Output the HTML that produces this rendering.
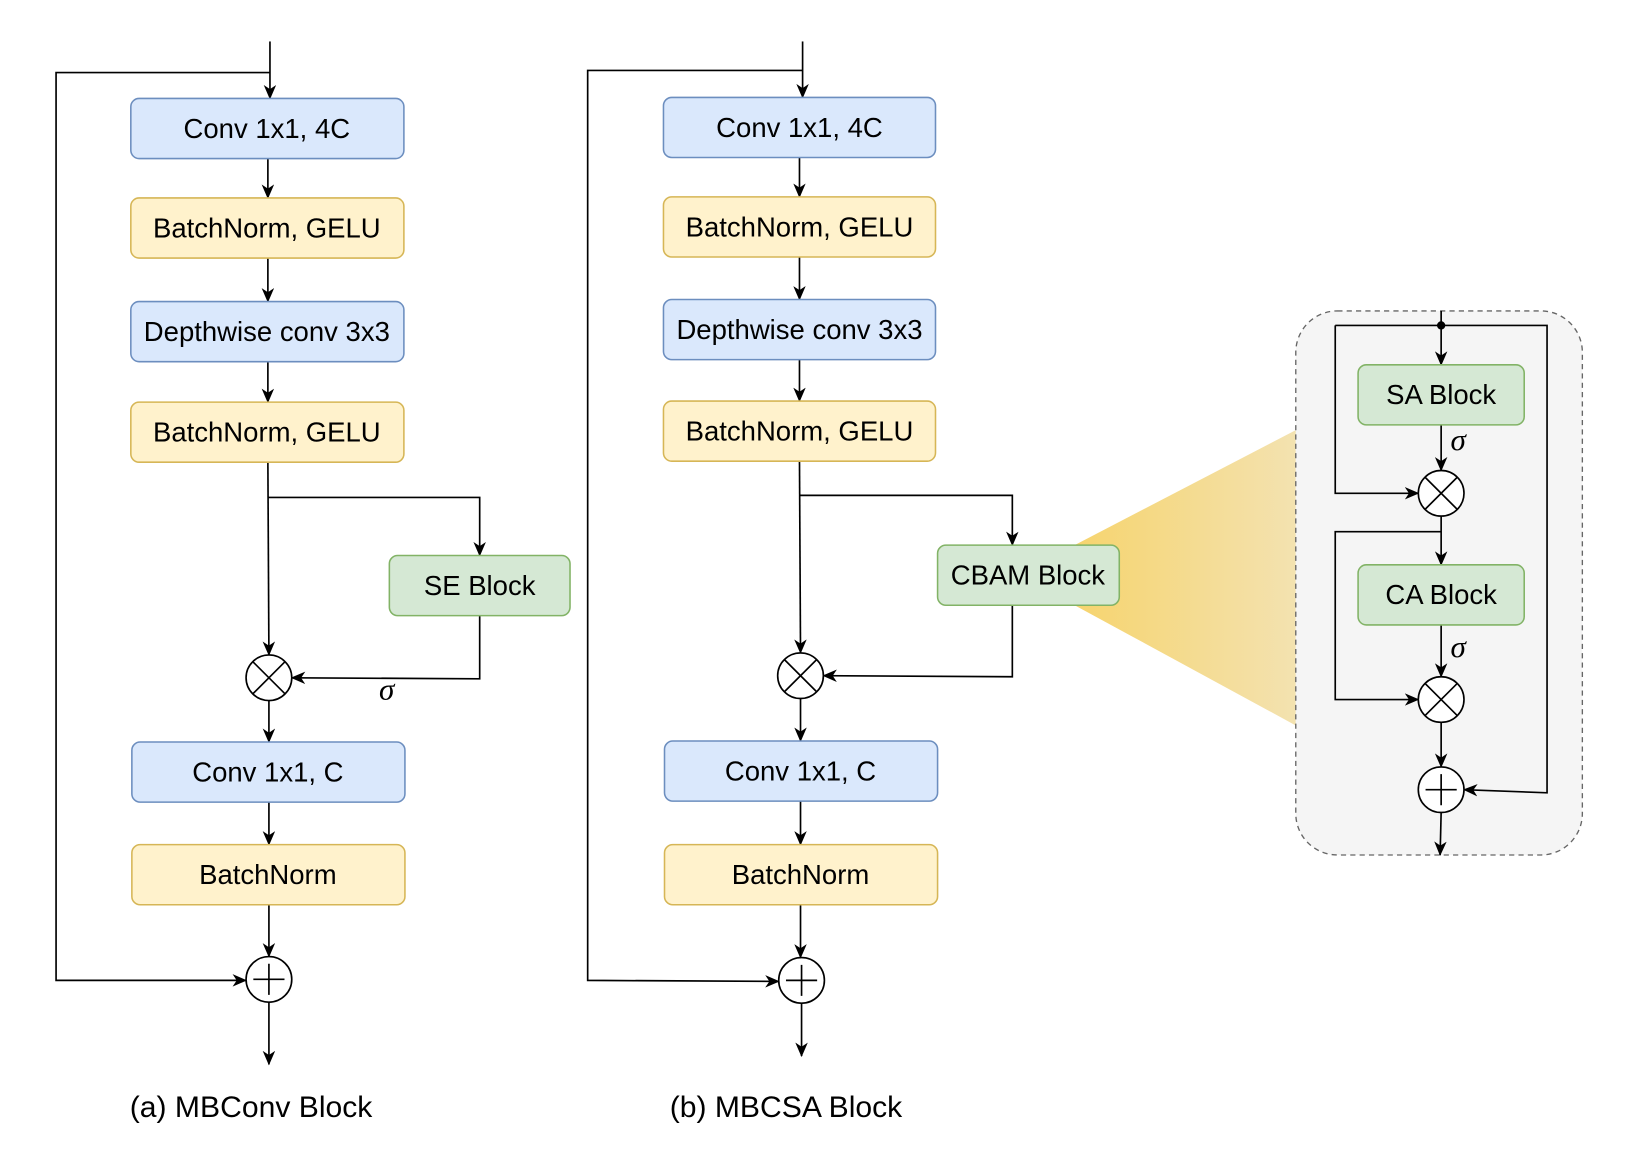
<!DOCTYPE html>
<html><head><meta charset="utf-8"><style>
html,body{margin:0;padding:0;background:#fff;}
svg{display:block;}
text{font-family:"Liberation Sans",sans-serif;fill:#000;}
</style></head><body>
<svg width="1627" height="1169" viewBox="0 0 1567 1128" preserveAspectRatio="none" xmlns="http://www.w3.org/2000/svg">
<defs>
<marker id="a" markerWidth="14" markerHeight="12" refX="13" refY="6" orient="auto" markerUnits="userSpaceOnUse">
<path d="M0,0 L14,6 L0,12 L4,6 z" fill="#000"/></marker>
<linearGradient id="g" x1="0" y1="0" x2="1" y2="0">
<stop offset="0" stop-color="#f6d46e"/><stop offset="1" stop-color="#f3e2b0"/></linearGradient>
</defs>
<g fill="none" stroke="#000" stroke-width="1.6">
<path d="M260,40 V95" marker-end="url(#a)"/>
<path d="M260,70 H54 V946 H237" marker-end="url(#a)"/>
<path d="M258,153 V191" marker-end="url(#a)"/>
<path d="M258,249 V291" marker-end="url(#a)"/>
<path d="M258,349 V388" marker-end="url(#a)"/>
<path d="M258,446 L259,632" marker-end="url(#a)"/>
<path d="M258,480 H462 V536" marker-end="url(#a)"/>
<path d="M462,594 V655 L281,654" marker-end="url(#a)"/>
<path d="M259,676 V716" marker-end="url(#a)"/>
<path d="M259,774 V815" marker-end="url(#a)"/>
<path d="M259,873 V923" marker-end="url(#a)"/>
<path d="M259,967 V1027" marker-end="url(#a)"/>
<path d="M773,40 V94" marker-end="url(#a)"/>
<path d="M773,68 H566 V946 L750,947" marker-end="url(#a)"/>
<path d="M770,152 V190" marker-end="url(#a)"/>
<path d="M770,248 V289" marker-end="url(#a)"/>
<path d="M770,347 V387" marker-end="url(#a)"/>
<path d="M770,445 L771,630" marker-end="url(#a)"/>
<path d="M770,478 H975 V526" marker-end="url(#a)"/>
<path d="M975,584 V653 L793,652" marker-end="url(#a)"/>
<path d="M771,674 V715" marker-end="url(#a)"/>
<path d="M771,773 V815" marker-end="url(#a)"/>
<path d="M771,873 V924" marker-end="url(#a)"/>
<path d="M772,968 V1019" marker-end="url(#a)"/>
</g>
<polygon points="1035,526 1248,415 1248,700 1035,584" fill="url(#g)"/>
<rect x="1248" y="300" width="276" height="525" rx="40" fill="#f5f5f5" stroke="#666" stroke-width="1.3" stroke-dasharray="5,4"/>
<g fill="none" stroke="#000" stroke-width="1.6">
<path d="M1388,300 V352" marker-end="url(#a)"/>
<path d="M1286,314 H1490 V765 L1410,762" marker-end="url(#a)"/>
<path d="M1286,314 V476 H1366" marker-end="url(#a)"/>
<path d="M1388,410 V454" marker-end="url(#a)"/>
<path d="M1388,498 V545" marker-end="url(#a)"/>
<path d="M1388,513 H1286 V675 H1366" marker-end="url(#a)"/>
<path d="M1388,603 V653" marker-end="url(#a)"/>
<path d="M1388,697 V740" marker-end="url(#a)"/>
<path d="M1388,784 L1387,825" marker-end="url(#a)"/>
</g>
<circle cx="1388" cy="314" r="4" fill="#000"/>
<g stroke-width="1.5">
<rect x="126" y="95" width="263" height="58" rx="8" fill="#dae8fc" stroke="#6c8ebf"/>
<rect x="126" y="191" width="263" height="58" rx="8" fill="#fff2cc" stroke="#d6b656"/>
<rect x="126" y="291" width="263" height="58" rx="8" fill="#dae8fc" stroke="#6c8ebf"/>
<rect x="126" y="388" width="263" height="58" rx="8" fill="#fff2cc" stroke="#d6b656"/>
<rect x="375" y="536" width="174" height="58" rx="8" fill="#d5e8d4" stroke="#82b366"/>
<rect x="127" y="716" width="263" height="58" rx="8" fill="#dae8fc" stroke="#6c8ebf"/>
<rect x="127" y="815" width="263" height="58" rx="8" fill="#fff2cc" stroke="#d6b656"/>
<rect x="639" y="94" width="262" height="58" rx="8" fill="#dae8fc" stroke="#6c8ebf"/>
<rect x="639" y="190" width="262" height="58" rx="8" fill="#fff2cc" stroke="#d6b656"/>
<rect x="639" y="289" width="262" height="58" rx="8" fill="#dae8fc" stroke="#6c8ebf"/>
<rect x="639" y="387" width="262" height="58" rx="8" fill="#fff2cc" stroke="#d6b656"/>
<rect x="903" y="526" width="175" height="58" rx="8" fill="#d5e8d4" stroke="#82b366"/>
<rect x="640" y="715" width="263" height="58" rx="8" fill="#dae8fc" stroke="#6c8ebf"/>
<rect x="640" y="815" width="263" height="58" rx="8" fill="#fff2cc" stroke="#d6b656"/>
<rect x="1308" y="352" width="160" height="58" rx="8" fill="#d5e8d4" stroke="#82b366"/>
<rect x="1308" y="545" width="160" height="58" rx="8" fill="#d5e8d4" stroke="#82b366"/>
</g>
<g fill="#fff" stroke="#000" stroke-width="1.6">
<g transform="translate(259,654)"><circle r="22"/><path d="M-15.5,-15.5 L15.5,15.5 M15.5,-15.5 L-15.5,15.5"/></g>
<g transform="translate(771,652)"><circle r="22"/><path d="M-15.5,-15.5 L15.5,15.5 M15.5,-15.5 L-15.5,15.5"/></g>
<g transform="translate(1388,476)"><circle r="22"/><path d="M-15.5,-15.5 L15.5,15.5 M15.5,-15.5 L-15.5,15.5"/></g>
<g transform="translate(1388,675)"><circle r="22"/><path d="M-15.5,-15.5 L15.5,15.5 M15.5,-15.5 L-15.5,15.5"/></g>
<g transform="translate(259,945)"><circle r="22"/><path d="M-15,0 H15 M0,-15 V15"/></g>
<g transform="translate(772,946)"><circle r="22"/><path d="M-15,0 H15 M0,-15 V15"/></g>
<g transform="translate(1388,762)"><circle r="22"/><path d="M-15,0 H15 M0,-15 V15"/></g>
</g>
<g font-size="26.5" text-anchor="middle">
<text x="257" y="133">Conv 1x1, 4C</text>
<text x="257" y="229">BatchNorm, GELU</text>
<text x="257" y="329">Depthwise conv 3x3</text>
<text x="257" y="426">BatchNorm, GELU</text>
<text x="462" y="574">SE Block</text>
<text x="258" y="754">Conv 1x1, C</text>
<text x="258" y="853">BatchNorm</text>
<text x="770" y="132">Conv 1x1, 4C</text>
<text x="770" y="228">BatchNorm, GELU</text>
<text x="770" y="327">Depthwise conv 3x3</text>
<text x="770" y="425">BatchNorm, GELU</text>
<text x="990" y="564">CBAM Block</text>
<text x="771" y="753">Conv 1x1, C</text>
<text x="771" y="853">BatchNorm</text>
<text x="1388" y="390">SA Block</text>
<text x="1388" y="583">CA Block</text>
</g>
<g font-style="italic" font-size="30">
<text x="365" y="675" style="font-family:'Liberation Serif',serif">σ</text>
<text x="1397" y="434" style="font-family:'Liberation Serif',serif">σ</text>
<text x="1397" y="634" style="font-family:'Liberation Serif',serif">σ</text>
</g>
<text x="125" y="1078" font-size="29">(a) MBConv Block</text>
<text x="645" y="1078" font-size="29">(b) MBCSA Block</text>
</svg>
</body></html>
